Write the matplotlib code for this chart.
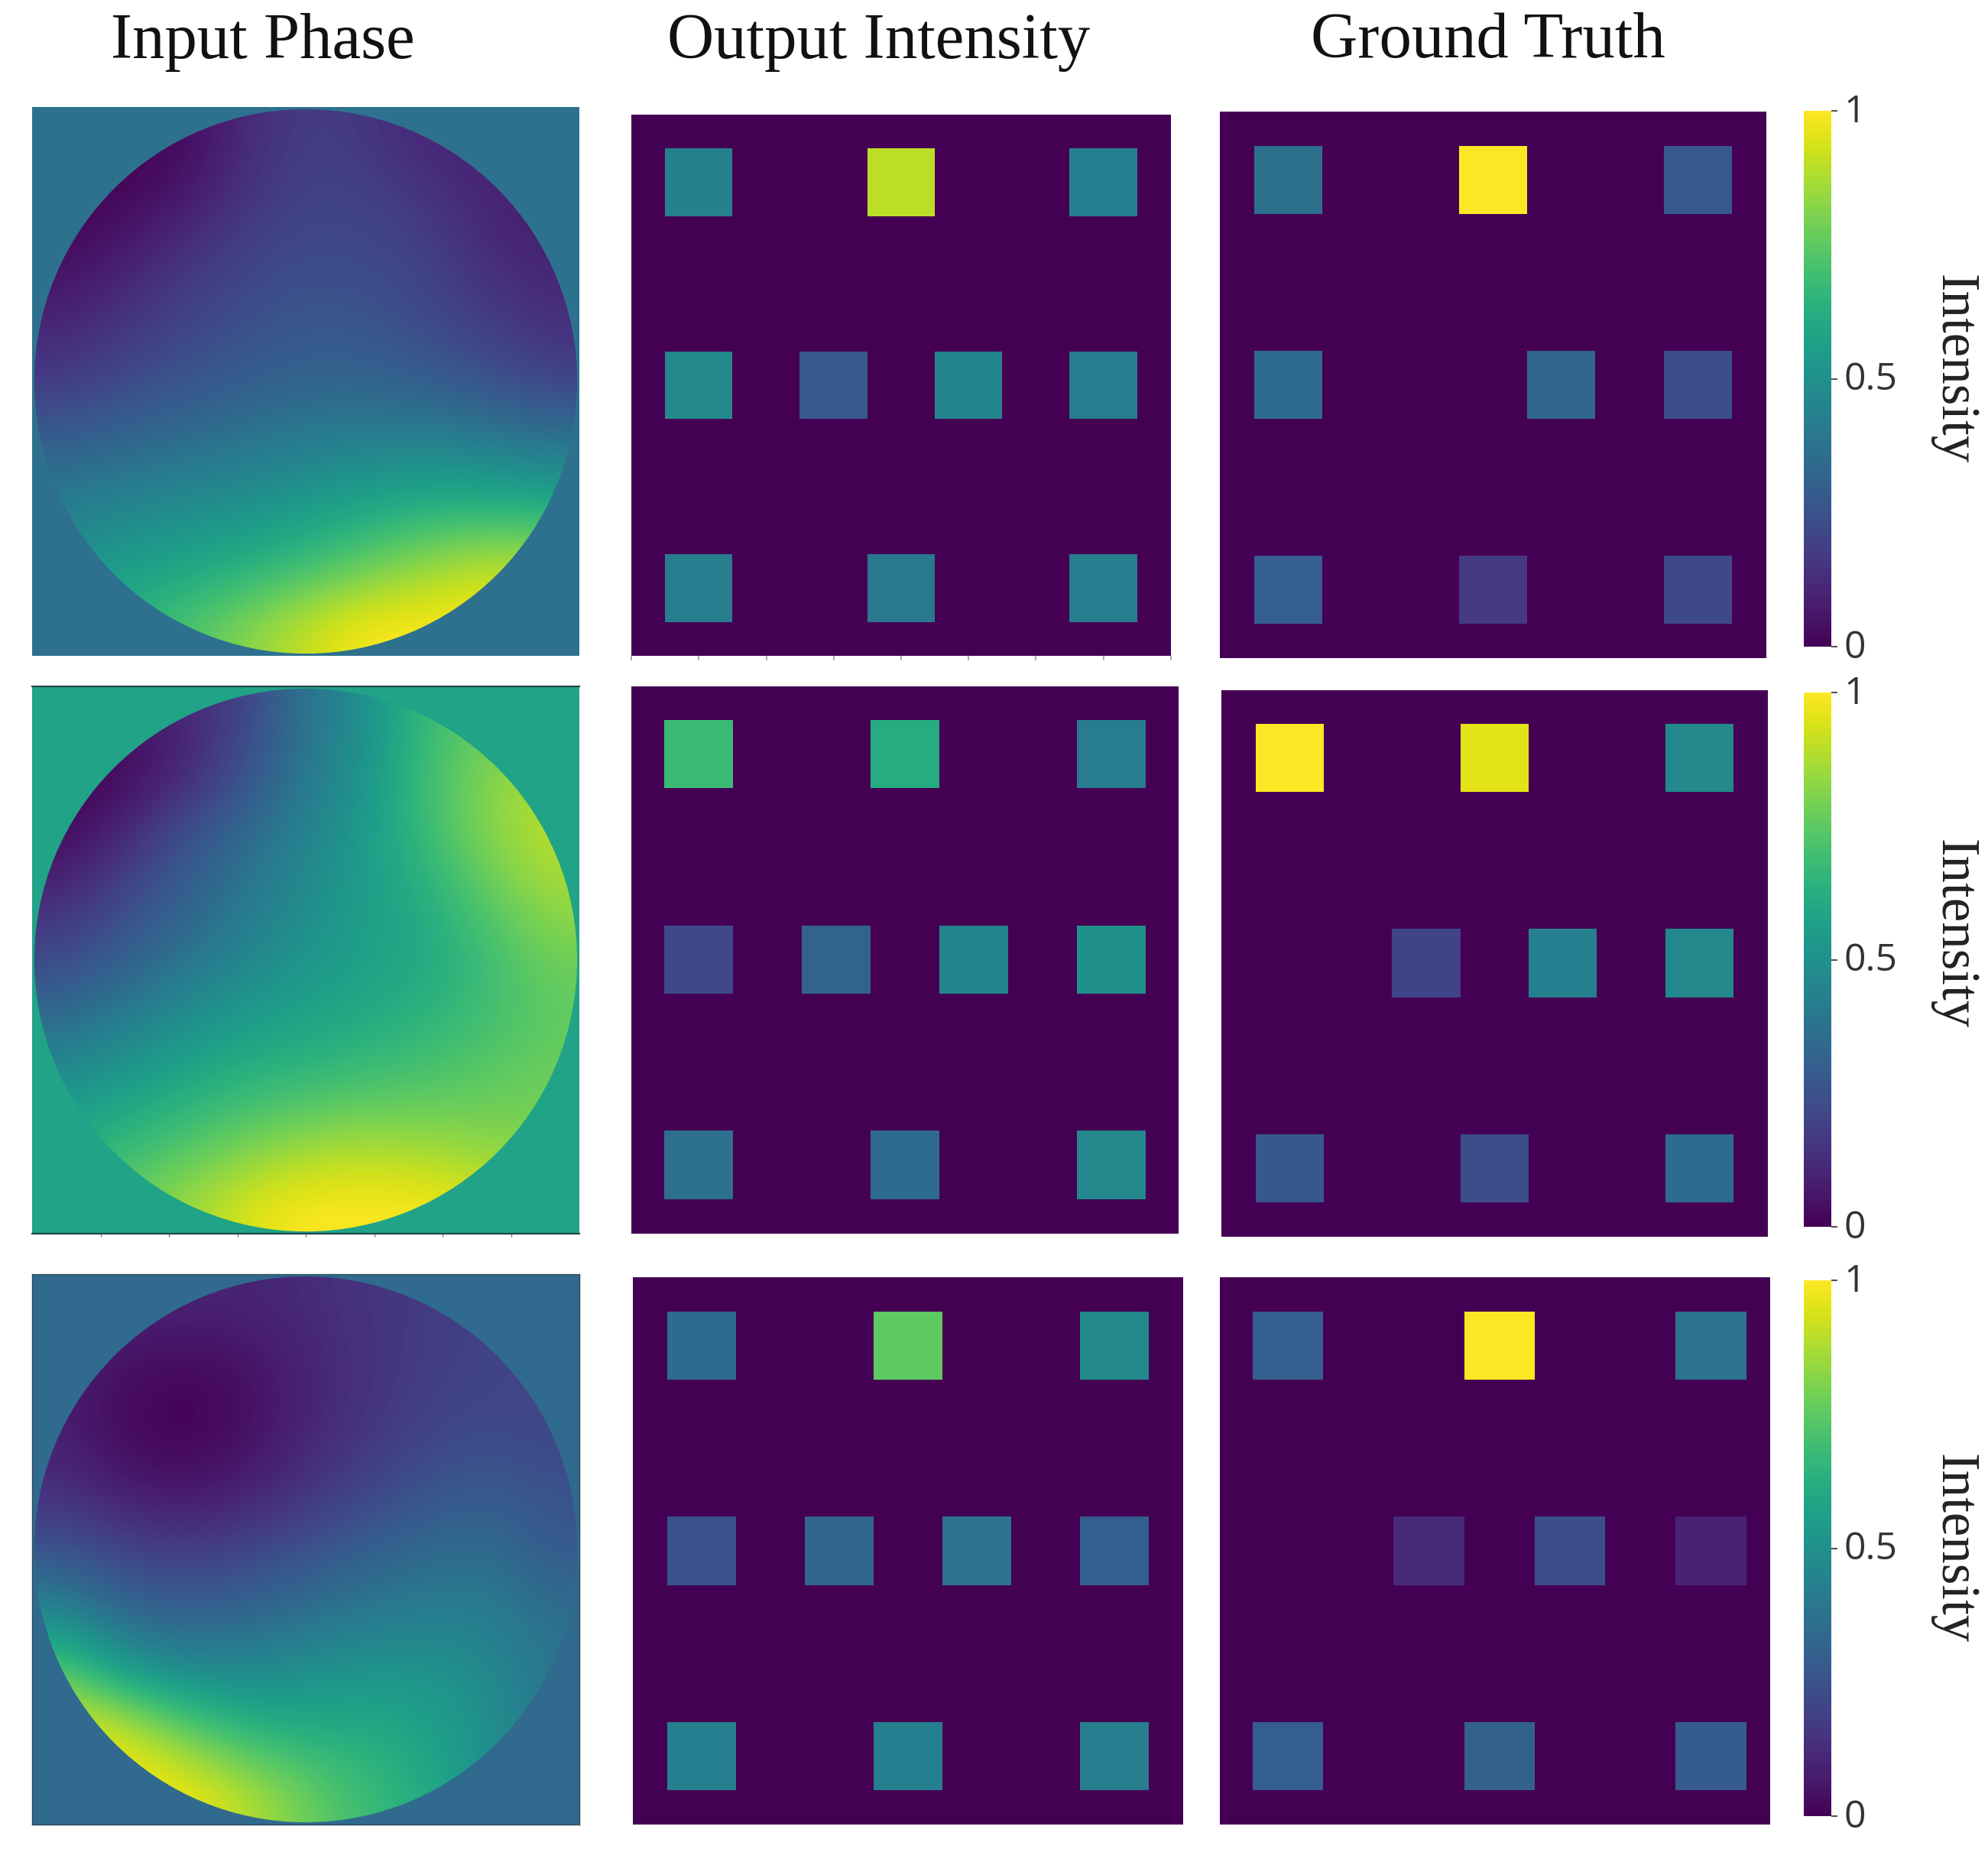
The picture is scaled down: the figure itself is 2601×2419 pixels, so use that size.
import numpy as np
import matplotlib
matplotlib.use("Agg")
import matplotlib.pyplot as plt
from matplotlib.patches import Circle
from matplotlib.cm import ScalarMappable
from matplotlib.colors import Normalize
from matplotlib.transforms import ScaledTranslation

W, H = 2601, 2419
titles = ["Input Phase", "Output Intensity", "Ground Truth"]
cbar_label = "Intensity"
cbar_ticks = [0, 0.5, 1]
cbar_ticklabels = ["0", "0.5", "1"]

# Phase backgrounds and coarse phase samples (top to bottom)
phase_bg = [0.37, 0.58, 0.34]
phase_1 = [
    [0.00, 0.00, 0.02, 0.12, 0.18, 0.16, 0.10, 0.10, 0.10],
    [0.00, 0.02, 0.06, 0.15, 0.20, 0.20, 0.15, 0.10, 0.08],
    [0.03, 0.08, 0.15, 0.20, 0.23, 0.22, 0.20, 0.12, 0.10],
    [0.10, 0.15, 0.20, 0.24, 0.27, 0.26, 0.22, 0.18, 0.13],
    [0.17, 0.22, 0.26, 0.29, 0.32, 0.32, 0.29, 0.25, 0.20],
    [0.30, 0.33, 0.36, 0.39, 0.42, 0.44, 0.44, 0.42, 0.38],
    [0.42, 0.45, 0.48, 0.50, 0.54, 0.58, 0.62, 0.62, 0.60],
    [0.50, 0.55, 0.58, 0.62, 0.68, 0.76, 0.84, 0.90, 0.90],
    [0.60, 0.65, 0.72, 0.82, 0.92, 1.00, 1.00, 1.00, 1.00],
]
phase_2 = [
    [0.00, 0.05, 0.10, 0.20, 0.38, 0.50, 0.68, 0.75, 0.80],
    [0.00, 0.02, 0.10, 0.25, 0.40, 0.52, 0.70, 0.82, 0.88],
    [0.02, 0.12, 0.25, 0.35, 0.45, 0.55, 0.68, 0.82, 0.90],
    [0.12, 0.22, 0.30, 0.40, 0.48, 0.56, 0.62, 0.75, 0.85],
    [0.22, 0.30, 0.38, 0.46, 0.52, 0.57, 0.60, 0.68, 0.78],
    [0.35, 0.42, 0.50, 0.55, 0.58, 0.61, 0.65, 0.70, 0.75],
    [0.50, 0.55, 0.60, 0.65, 0.67, 0.70, 0.72, 0.75, 0.78],
    [0.60, 0.66, 0.72, 0.78, 0.84, 0.86, 0.84, 0.82, 0.80],
    [0.70, 0.78, 0.85, 0.95, 1.00, 1.00, 1.00, 0.95, 0.90],
]
phase_3 = [
    [0.10, 0.10, 0.10, 0.10, 0.12, 0.15, 0.17, 0.20, 0.20],
    [0.08, 0.04, 0.02, 0.04, 0.10, 0.14, 0.18, 0.20, 0.22],
    [0.08, 0.02, 0.00, 0.03, 0.10, 0.15, 0.20, 0.22, 0.20],
    [0.13, 0.07, 0.05, 0.08, 0.14, 0.20, 0.25, 0.28, 0.25],
    [0.25, 0.20, 0.17, 0.20, 0.25, 0.30, 0.34, 0.36, 0.28],
    [0.45, 0.32, 0.30, 0.32, 0.36, 0.40, 0.42, 0.42, 0.36],
    [0.75, 0.55, 0.47, 0.47, 0.50, 0.52, 0.52, 0.48, 0.38],
    [1.00, 0.95, 0.78, 0.66, 0.62, 0.62, 0.58, 0.50, 0.40],
    [1.00, 1.00, 1.00, 0.90, 0.78, 0.68, 0.62, 0.50, 0.40],
]

# Spot values: outer rows have three spots, the middle row four
spot_cols_outer = [1, 7, 13]
spot_cols_middle = [1, 5, 9, 13]
spot_rows = [1, 7, 13]
output_1 = [[0.44, 0.90, 0.43], [0.47, 0.28, 0.45, 0.42], [0.42, 0.40, 0.42]]
truth_1 = [[0.37, 1.00, 0.28], [0.35, 0.00, 0.33, 0.24], [0.30, 0.17, 0.22]]
output_2 = [[0.68, 0.62, 0.42], [0.22, 0.32, 0.45, 0.50], [0.37, 0.35, 0.47]]
truth_2 = [[1.00, 0.96, 0.47], [0.00, 0.20, 0.43, 0.47], [0.27, 0.24, 0.35]]
output_3 = [[0.35, 0.75, 0.47], [0.25, 0.33, 0.38, 0.30], [0.43, 0.43, 0.42]]
truth_3 = [[0.30, 1.00, 0.38], [0.00, 0.12, 0.24, 0.10], [0.30, 0.31, 0.29]]

# Axes boxes in reference pixels: left, top, right, bottom
boxes = [
    [(42, 140, 758, 858), (826, 150, 1532, 858), (1596, 146, 2311, 861), (2360, 145, 2396, 846)],
    [(42, 898, 758, 1614), (826, 898, 1542, 1614), (1598, 903, 2313, 1618), (2360, 906, 2396, 1605)],
    [(42, 1667, 758, 2387), (828, 1671, 1548, 2387), (1596, 1671, 2316, 2387), (2360, 1675, 2396, 2376)],
]
# Visible horizontal range of each spot panel, in grid cells
spot_xlims = [
    [(-0.43, 15.43), (-0.5, 15.5)],
    [(-0.46, 15.46), (-0.5, 15.5)],
    [(-0.5, 15.5), (-0.43, 15.18)],
]
title_x = [344, 1150, 1947]
label_y = [483, 1222, 2026]
grid_ticks = [-0.5, 1.5, 3.5, 5.5, 7.5, 9.5, 11.5, 13.5, 15.5]
phase_tick_fracs = [0.125, 0.25, 0.375, 0.5, 0.625, 0.75, 0.875]
disc_radius = 0.496


def add_axes(box):
    l, t, r, b = box
    return fig.add_axes([l / W, 1 - b / H, (r - l) / W, (b - t) / H])


def spots_image(vals):
    img = np.zeros((16, 16))
    for row, row_vals in zip(spot_rows, vals):
        cols = spot_cols_middle if len(row_vals) == 4 else spot_cols_outer
        for col, v in zip(cols, row_vals):
            img[row:row + 2, col:col + 2] = v
    return img


plt.rcParams["font.family"] = ["Liberation Serif", "DejaVu Serif"]
fig = plt.figure(figsize=(W / 100, H / 100), dpi=100, facecolor="white")
cmap = plt.get_cmap("viridis")
norm = Normalize(0, 1)

rows = [(phase_1, output_1, truth_1), (phase_2, output_2, truth_2), (phase_3, output_3, truth_3)]
for i, (phase, output, truth) in enumerate(rows):
    ax = add_axes(boxes[i][0])
    ax.set_facecolor(cmap(norm(phase_bg[i])))
    im = ax.imshow(np.array(phase), cmap=cmap, norm=norm, extent=(0, 1, 1, 0),
                   interpolation="bicubic", aspect="auto")
    im.set_clip_path(Circle((0.5, 0.5), disc_radius, transform=ax.transData))
    ax.set_xlim(0, 1)
    ax.set_ylim(1, 0)
    ax.set_xticks([])
    ax.set_yticks([])
    for name, s in ax.spines.items():
        s.set_visible(False)
        if i == 1 and name in ("top", "bottom"):
            s.set_visible(True)
            s.set_linewidth(1.5)
            s.set_color("#23404a")
        if i == 2:
            s.set_visible(True)
            s.set_linewidth(1.0)
            s.set_color("#2c4a5c")
    if i == 1:
        ax.set_xticks(phase_tick_fracs)
        ax.set_xticklabels([])
        ax.tick_params(axis="x", length=3, width=1, color="#777777")

    for j, vals in enumerate((output, truth), start=1):
        ax = add_axes(boxes[i][j])
        ax.imshow(spots_image(vals), cmap=cmap, norm=norm, interpolation="nearest", aspect="auto")
        ax.set_xlim(*spot_xlims[i][j - 1])
        ax.set_xticks([])
        ax.set_yticks([])
        for s in ax.spines.values():
            s.set_visible(False)
        if i == 0 and j == 1:
            ax.set_xticks(grid_ticks)
            ax.set_xticklabels([])
            ax.tick_params(axis="x", length=4, width=1.2, color="#a0a0a0")

    cax = add_axes(boxes[i][3])
    cb = fig.colorbar(ScalarMappable(norm=norm, cmap=cmap), cax=cax)
    cb.outline.set_visible(False)
    cb.set_ticks(cbar_ticks)
    cb.set_ticklabels(cbar_ticklabels)
    cax.tick_params(axis="y", length=6, width=1.5, color="#555555", pad=6,
                    labelsize=36, labelcolor="#333333")
    lift = ScaledTranslation(0, 3 / 72, fig.dpi_scale_trans)
    for t in cax.get_yticklabels():
        t.set_fontfamily("Open Sans")
        t.set_transform(t.get_transform() + lift)
    fig.text(2556 / W, 1 - label_y[i] / H, cbar_label, rotation=270, ha="center", va="center",
             fontsize=51, color="#222222")

for x, t in zip(title_x, titles):
    fig.text(x / W, 1 - 55 / H, t, ha="center", va="center", fontsize=61, color="#111111")

fig.savefig("out.png", dpi=100, facecolor="white")
